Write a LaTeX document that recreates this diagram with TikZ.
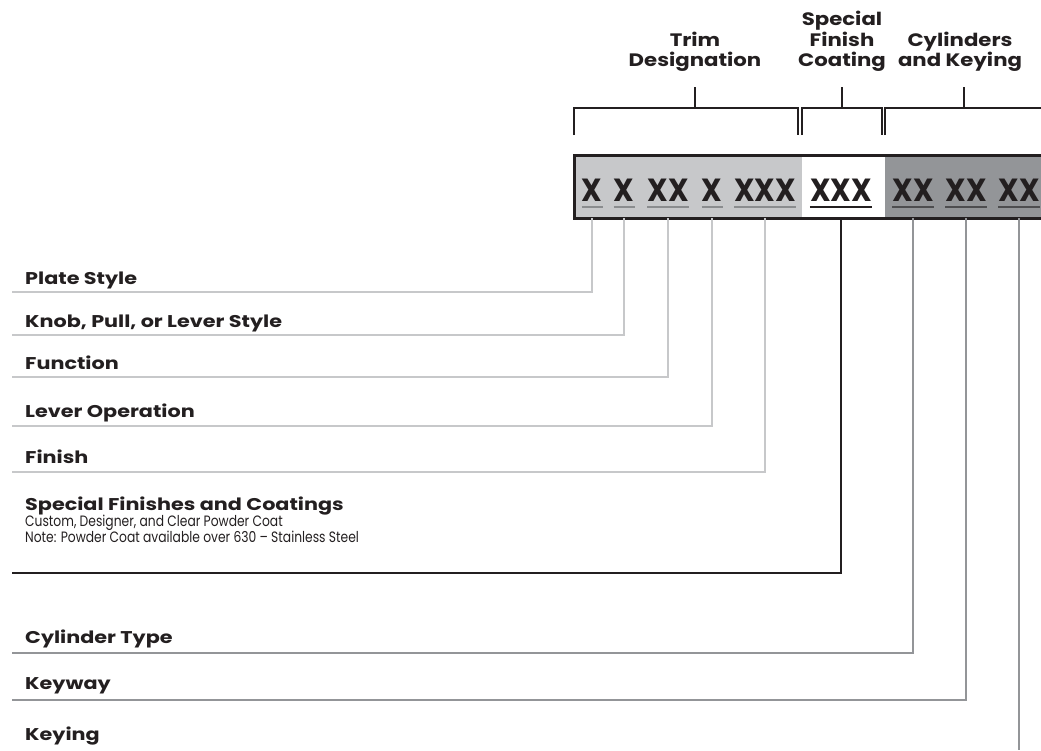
\documentclass[tikz,border=0pt]{standalone}
\usepackage{fontspec}
\setmainfont{Poppins}
\newfontfamily\labfont[FakeStretch=1.22]{Poppins}
\newfontfamily\headfont[FakeStretch=1.18]{Poppins}
\newfontfamily\codefont[FakeStretch=0.9]{Poppins}
\newfontfamily\bodyfont[FakeStretch=0.82]{Poppins}
\usetikzlibrary{positioning}
\definecolor{ink}{HTML}{231F20}
\definecolor{trimgray}{HTML}{C7C8CA}
\definecolor{cylgray}{HTML}{939598}
\definecolor{ulgray}{HTML}{8A8C8E}
\definecolor{uldark}{HTML}{4D4D4F}

\begin{document}
\begin{tikzpicture}[x=1pt, y=-1pt,
  font=\labfont\fontsize{17}{20}\selectfont\bfseries,
  code/.style={font=\codefont\fontsize{32}{32}\selectfont\bfseries, text=ink,
               inner sep=0pt, anchor=base},
  head/.style={font=\headfont\fontsize{18}{20.5}\selectfont\bfseries, text=ink,
               align=center, inner sep=0pt, anchor=south},
  lab/.style={text=ink, inner sep=0pt, anchor=base west},
  body/.style={font=\bodyfont\fontsize{15}{14}\selectfont\mdseries, text=ink,
               inner sep=0pt, anchor=base west, align=left},
  seg/.style={draw=none, inner sep=0pt, anchor=north west,
              minimum height=63pt},
  brk/.style={draw=ink, line width=2.4pt},
  lead/.style={line width=2.8pt},
  ul/.style={line width=1.6pt}
]
\useasboundingbox (0,0) rectangle (1041,750);

% code bar
\node[seg, fill=trimgray, minimum width=228pt] (trimseg) at (574,155) {};
\node[seg, fill=white,    minimum width=83pt]  (finseg)  at (802,155) {};
\node[seg, fill=cylgray,  minimum width=170pt] (cylseg)  at (885,155) {};
\draw[draw=ink, line width=3pt]
  (cylseg.north east) -- (trimseg.north west) -- (trimseg.south west)
  -- (cylseg.south east);

\node[code] (c1) at (592,201) {X};
\node[code] (c2) at (624,201) {X};
\node[code] (c3) at (668,201) {XX};
\node[code] (c4) at (712,201) {X};
\node[code] (c5) at (765,201) {XXX};
\node[code] (c6) at (841,201) {XXX};
\node[code] (c7) at (913,201) {XX};
\node[code] (c8) at (966,201) {XX};
\node[code] (c9) at (1019,201) {XX};

\foreach \i in {1,...,5}
  \draw[ul, ulgray] ([yshift=-6pt]c\i.base west) -- ([yshift=-6pt]c\i.base east);
\draw[ul, ink] ([yshift=-6pt]c6.base west) -- ([yshift=-6pt]c6.base east);
\foreach \i in {7,8,9}
  \draw[ul, uldark] ([yshift=-6pt]c\i.base west) -- ([yshift=-6pt]c\i.base east);

% group headings and brackets
\node[head] (htrim) at (695,72) {Trim\\Designation};
\node[head] (hfin)  at (842,72) {Special\\Finish\\Coating};
\node[head] (hcyl)  at (960,72) {Cylinders\\and Keying};

\draw[brk] (574,135) |- (798,108) -- (798,135);
\draw[brk] (802,135) |- (882,108) -- (882,135);
\draw[brk] (885,135) |- (1045,108);
\draw[brk] (htrim.south |- 0,87) -- (htrim.south |- 0,108);
\draw[brk] (hfin.south |- 0,87)  -- (hfin.south |- 0,108);
\draw[brk] ([xshift=4pt]hcyl.south |- 0,87) -- ([xshift=4pt]hcyl.south |- 0,108);

% labels
\node[lab] (plate)  at (25,284) {Plate Style};
\node[lab] (knob)   at (25,327) {Knob, Pull, or Lever Style};
\node[lab] (func)   at (25,369) {Function};
\node[lab] (levop)  at (25,417) {Lever Operation};
\node[lab] (finish) at (25,463) {Finish};
\node[lab] (spec)   at (25,510) {Special Finishes and Coatings};
\node[body, below=0pt of spec.south west, anchor=north west] (specnote)
  {Custom, Designer, and Clear Powder Coat\\
   Note: Powder Coat available over 630 – Stainless Steel};
\node[lab] (cyltype) at (25,643) {Cylinder Type};
\node[lab] (keyway)  at (25,689) {Keyway};
\node[lab] (keying)  at (25,740) {Keying};

% leader ends
\coordinate (e1) at (12,292);
\coordinate (e2) at (12,335);
\coordinate (e3) at (12,377);
\coordinate (e4) at (12,426);
\coordinate (e5) at (12,472);
\coordinate (e6) at (12,573);
\coordinate (e7) at (12,653);
\coordinate (e8) at (12,700);
\coordinate (e9) at (1019,750);

\foreach \i in {1,...,5}
  \draw[lead, trimgray] (c\i |- trimseg.south) |- (e\i);
\draw[lead, ink, line width=2.4pt] (c6 |- finseg.south) |- (e6);
\foreach \i in {7,8}
  \draw[lead, cylgray] (c\i |- cylseg.south) |- (e\i);
\draw[lead, cylgray] (c9 |- cylseg.south) -- (e9);
\end{tikzpicture}
\end{document}
